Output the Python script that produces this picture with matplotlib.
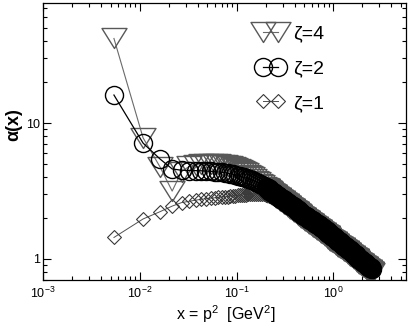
import matplotlib
matplotlib.use('Agg')
import numpy as np
import matplotlib.pyplot as plt
from matplotlib.path import Path
from matplotlib.ticker import LogLocator, FixedLocator, FixedFormatter, NullFormatter

plt.rcParams['font.family'] = ['Liberation Sans', 'DejaVu Sans']
plt.rcParams['mathtext.fontset'] = 'custom'
plt.rcParams['mathtext.rm'] = 'Liberation Sans'
plt.rcParams['mathtext.it'] = 'Liberation Sans:italic'
plt.rcParams['mathtext.bf'] = 'Liberation Sans:bold'
plt.rcParams['axes.unicode_minus'] = False

# ---- data ----
x_vals = [0.0054, 0.0108, 0.0162, 0.0216, 0.027, 0.0324, 0.0378, 0.0432, 0.0486, 0.054,
          0.0594, 0.0648, 0.0702, 0.0756, 0.081, 0.0864, 0.0918, 0.0972, 0.1026, 0.108,
          0.115, 0.1204, 0.1261, 0.132, 0.1382, 0.1448, 0.1516, 0.1587, 0.1662, 0.174,
          0.1822, 0.1908, 0.1998, 0.2092, 0.2191, 0.2294, 0.2402, 0.2515, 0.2634, 0.2758,
          0.2888, 0.3024, 0.3166, 0.3315, 0.3472, 0.3635, 0.3807, 0.3986, 0.4174, 0.437,
          0.4576, 0.4792, 0.5018, 0.5254, 0.5502, 0.5761, 0.6032, 0.6317, 0.6614, 0.6926,
          0.7252, 0.7594, 0.7952, 0.8326, 0.8718, 0.9129, 0.9559, 1.001, 1.048, 1.097,
          1.149, 1.203, 1.26, 1.319, 1.382, 1.447, 1.515, 1.586, 1.661, 1.739,
          1.821, 1.907, 1.997, 2.091, 2.19, 2.293, 2.401, 2.514]

alpha_z4 = [42, 7.8, 4.75, 3.16, 4.4, 4.8, 4.95, 5.0, 5.0, 5.0,
            5.0, 4.98, 4.95, 4.9, 4.85, 4.8, 4.74, 4.68, 4.62, 4.55,
            4.44, 4.35, 4.26, 4.17, 4.07, 3.98, 3.88, 3.78, 3.68, 3.59,
            3.49, 3.40, 3.32, 3.23, 3.15, 3.06, 2.99, 2.91, 2.83, 2.76,
            2.69, 2.62, 2.55, 2.49, 2.42, 2.36, 2.30, 2.24, 2.19, 2.13,
            2.08, 2.02, 1.97, 1.92, 1.87, 1.83, 1.78, 1.73, 1.69, 1.65,
            1.60, 1.56, 1.52, 1.49, 1.45, 1.41, 1.37, 1.34, 1.31, 1.27,
            1.24, 1.21, 1.18, 1.15, 1.12, 1.09, 1.06, 1.03, 1.01, 0.98,
            0.954, 0.929, 0.905, 0.881, 0.858, 0.835, 0.813, 0.792]

alpha_z2 = [16.1, 7.13, 5.44, 4.6, 4.5, 4.48, 4.47, 4.46, 4.44, 4.42,
            4.40, 4.37, 4.34, 4.32, 4.28, 4.25, 4.21, 4.17, 4.11, 4.05,
            4.01, 3.98, 3.94, 3.90, 3.85, 3.80, 3.75, 3.69, 3.63, 3.57,
            3.50, 3.43, 3.36, 3.29, 3.22, 3.15, 3.08, 3.00, 2.93, 2.86,
            2.79, 2.73, 2.66, 2.60, 2.54, 2.48, 2.42, 2.37, 2.31, 2.26,
            2.21, 2.15, 2.10, 2.06, 2.01, 1.96, 1.92, 1.87, 1.83, 1.79,
            1.74, 1.70, 1.66, 1.62, 1.58, 1.54, 1.50, 1.46, 1.42, 1.38,
            1.35, 1.31, 1.27, 1.24, 1.21, 1.17, 1.14, 1.11, 1.08, 1.05,
            1.02, 0.994, 0.967, 0.941, 0.915, 0.890, 0.866, 0.842]

alpha_z1 = [1.44, 1.97, 2.23, 2.45, 2.6, 2.66, 2.71, 2.75, 2.78, 2.80,
            2.82, 2.84, 2.86, 2.87, 2.88, 2.90, 2.91, 2.93, 2.94, 2.95,
            2.96, 2.97, 2.98, 2.99, 3.00, 3.01, 3.02, 3.02, 3.02, 3.02,
            3.01, 3.00, 2.98, 2.96, 2.93, 2.90, 2.87, 2.83, 2.79, 2.74,
            2.69, 2.64, 2.58, 2.52, 2.46, 2.40, 2.34, 2.28, 2.22, 2.16,
            2.10, 2.05, 2.00, 1.95, 1.90, 1.85, 1.81, 1.76, 1.72, 1.68,
            1.64, 1.60, 1.56, 1.52, 1.49, 1.45, 1.42, 1.38, 1.35, 1.31,
            1.28, 1.25, 1.22, 1.19, 1.16, 1.13, 1.10, 1.07, 1.04, 1.02,
            0.99, 0.965, 0.94, 0.915, 0.89, 0.865, 0.84, 0.82]

# extra (denser) momenta in the large-x region where the symbols merge into a band
x_dense = [0.2044, 0.2141, 0.2242, 0.2348, 0.2458, 0.2574, 0.2695, 0.2822, 0.2955, 0.3094,
           0.324, 0.3393, 0.3552, 0.372, 0.3895, 0.4079, 0.4271, 0.4472, 0.4683, 0.4904,
           0.5135, 0.5377, 0.563, 0.5895, 0.6173, 0.6464, 0.6768, 0.7087, 0.7421, 0.7771,
           0.8137, 0.852, 0.8922, 0.9342, 0.9782, 1.024, 1.072, 1.123, 1.176, 1.231,
           1.289, 1.35, 1.414, 1.481, 1.55, 1.623, 1.7, 1.78, 1.863, 1.951,
           2.043, 2.14, 2.241, 2.346, 2.457]

alpha_z4_dense = [3.275, 3.19, 3.105, 3.025, 2.95, 2.87, 2.795, 2.725, 2.655, 2.585,
                  2.52, 2.455, 2.39, 2.33, 2.27, 2.215, 2.16, 2.105, 2.05, 1.995,
                  1.945, 1.895, 1.85, 1.805, 1.755, 1.71, 1.67, 1.625, 1.58, 1.54,
                  1.505, 1.47, 1.43, 1.39, 1.355, 1.325, 1.29, 1.255, 1.225, 1.195,
                  1.165, 1.135, 1.105, 1.075, 1.045, 1.02, 0.995, 0.967, 0.941, 0.917,
                  0.893, 0.869, 0.846, 0.824, 0.802]

alpha_z2_dense = [3.325, 3.255, 3.185, 3.115, 3.04, 2.965, 2.895, 2.825, 2.76, 2.695,
                  2.63, 2.57, 2.51, 2.45, 2.395, 2.34, 2.285, 2.235, 2.18, 2.125,
                  2.08, 2.035, 1.985, 1.94, 1.895, 1.85, 1.81, 1.765, 1.72, 1.68,
                  1.64, 1.60, 1.56, 1.52, 1.48, 1.44, 1.40, 1.365, 1.33, 1.29,
                  1.255, 1.225, 1.19, 1.155, 1.125, 1.095, 1.065, 1.035, 1.007, 0.98,
                  0.954, 0.928, 0.902, 0.878, 0.854]

alpha_z1_dense = [2.97, 2.945, 2.915, 2.885, 2.85, 2.81, 2.765, 2.715, 2.665, 2.61,
                  2.55, 2.49, 2.43, 2.37, 2.31, 2.25, 2.19, 2.13, 2.075, 2.025,
                  1.975, 1.925, 1.875, 1.83, 1.785, 1.74, 1.70, 1.66, 1.62, 1.58,
                  1.54, 1.505, 1.47, 1.435, 1.40, 1.365, 1.33, 1.295, 1.265, 1.235,
                  1.205, 1.175, 1.145, 1.115, 1.085, 1.055, 1.03, 1.005, 0.977, 0.952,
                  0.927, 0.902, 0.877, 0.852, 0.83]

series_labels = ['ζ=4', 'ζ=2', 'ζ=1']
y_ticks = [1, 10]
y_tick_labels = ['1', '10']
x_label = 'x = p$^2$  [GeV$^2$]'
y_label = 'α(x)'


def merged(xa, ya, xb, yb):
    x = np.array(xa + xb)
    y = np.array(ya + yb)
    order = np.argsort(x)
    return x[order], y[order]


# ---- markers ----
tri = Path([(-1, 0.8), (1, 0.8), (0, -0.8), (-1, 0.8)],
           [Path.MOVETO, Path.LINETO, Path.LINETO, Path.CLOSEPOLY])
dia = Path([(0, 1), (1, 0), (0, -1), (-1, 0), (0, 1)],
           [Path.MOVETO, Path.LINETO, Path.LINETO, Path.LINETO, Path.CLOSEPOLY])

fig = plt.figure(figsize=(4.09, 3.27), dpi=100)
ax = fig.add_axes([0.1044, 0.1437, 0.888, 0.848])

x4, y4 = merged(x_vals, alpha_z4, x_dense, alpha_z4_dense)
x2, y2 = merged(x_vals, alpha_z2, x_dense, alpha_z2_dense)
x1, y1 = merged(x_vals, alpha_z1, x_dense, alpha_z1_dense)

tri_col, circ_col, dia_col = '#585858', 'black', '#383838'

ax.plot(x4, y4, color='#6a6a6a', lw=0.8, marker=tri, ms=18,
        mfc='none', mec=tri_col, mew=1.0, label=series_labels[0], zorder=2)
ax.plot(x2, y2, color='black', lw=0.9, marker='o', ms=13,
        mfc='none', mec=circ_col, mew=1.0, label=series_labels[1], zorder=3)
ax.plot(x1, y1, color='#505050', lw=0.7, marker=dia, ms=10,
        mfc='none', mec=dia_col, mew=0.8, label=series_labels[2], zorder=1)

# the dense symbols of the large-x region, drawn with heavier outlines so they merge
ax.plot(x_dense, alpha_z4_dense, ls='none', marker=tri, ms=18, mfc='none',
        mec=tri_col, mew=1.6, zorder=2)
ax.plot(x_dense, alpha_z2_dense, ls='none', marker='o', ms=13, mfc='none',
        mec=circ_col, mew=1.8, zorder=3)
ax.plot(x_dense, alpha_z1_dense, ls='none', marker=dia, ms=10, mfc='none',
        mec=dia_col, mew=1.3, zorder=1)

ax.set_xscale('log')
ax.set_yscale('log')
ax.set_xlim(0.00099, 5.64)
ax.set_ylim(0.70, 77)

ax.xaxis.set_major_locator(LogLocator(base=10, numticks=10))
ax.xaxis.set_minor_locator(LogLocator(base=10, subs=range(2, 10), numticks=20))
ax.xaxis.set_minor_formatter(NullFormatter())
ax.yaxis.set_major_locator(FixedLocator(y_ticks))
ax.yaxis.set_major_formatter(FixedFormatter(y_tick_labels))
ax.yaxis.set_minor_locator(LogLocator(base=10, subs=range(2, 10), numticks=20))
ax.yaxis.set_minor_formatter(NullFormatter())

ax.tick_params(which='both', direction='in', top=True, right=True, width=0.8,
               labelsize=9)
ax.tick_params(which='major', length=5.5)
ax.tick_params(which='minor', length=3)
ax.tick_params(axis='x', which='major', pad=4)
ax.tick_params(axis='y', which='major', pad=2)
for s in ax.spines.values():
    s.set_linewidth(0.9)

ax.set_xlabel(x_label, fontsize=11.5)
ax.xaxis.label.set_verticalalignment('bottom')
ax.xaxis.set_label_coords(0.5045, -0.163)
ax.set_ylabel(y_label, fontsize=13, fontweight='bold')
ax.yaxis.set_label_coords(-0.057, 0.559)

ax.legend(loc='upper left', bbox_to_anchor=(0.59, 0.919), frameon=False,
          numpoints=2, handlelength=1.37, handletextpad=0.5, labelspacing=0.87,
          borderpad=0, borderaxespad=0, fontsize=14)

fig.savefig('out.png', dpi=100)
